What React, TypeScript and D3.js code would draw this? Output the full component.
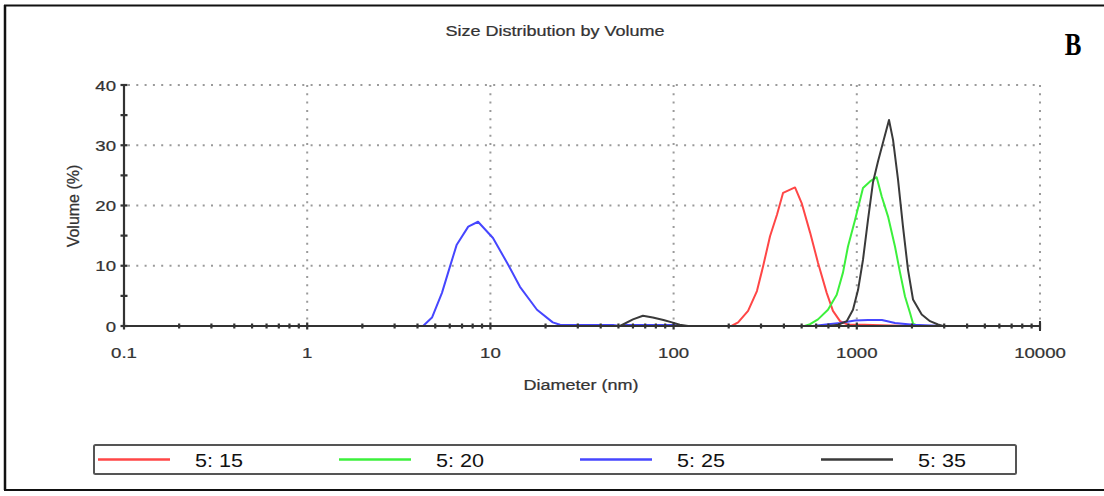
import React from "react";
import * as d3 from "d3";

// ---- data ----
const xMajorTicks = [0.1, 1, 10, 100, 1000, 10000];
const xTickLabels = ["0.1", "1", "10", "100", "1000", "10000"];
const yMajorTicks = [0, 10, 20, 30, 40];
const yTickLabels = ["0", "10", "20", "30", "40"];
const yMinorTicks = [5, 15, 25, 35];

const seriesNames = ["5: 15", "5: 20", "5: 25", "5: 35"];
const seriesColors = ["#ff4646", "#3cf03c", "#4646ff", "#3a3a3a"];

const redD = [200, 207, 225, 255, 285, 308, 336, 367, 396, 460, 500, 556, 614, 685, 741, 810, 900, 1100, 1500, 2027];
const redV = [0, 0, 0.6, 2.5, 5.8, 9.9, 14.9, 18.5, 22.1, 23.0, 20.4, 15.5, 10.5, 5.5, 2.5, 0.8, 0.2, 0.2, 0.1, 0];

const greenD = [520, 556, 614, 696, 777, 841, 895, 978, 1081, 1181, 1284, 1368, 1480, 1616, 1721, 1833, 1951, 2027, 2159];
const greenV = [0, 0.3, 1.1, 2.7, 5.2, 8.9, 13.2, 17.6, 22.9, 24.0, 24.7, 21.5, 18.2, 13.2, 8.9, 4.9, 2.2, 0.4, 0];

const blueD = [3.8, 4.29, 4.8, 5.44, 6.02, 6.55, 7.57, 8.56, 10.33, 12.33, 14.5, 17.96, 21.9, 24.0, 30, 40, 46.7, 51, 55, 70, 100, 110, 560, 577, 700, 810, 978, 1151, 1372, 1616, 2027, 2926];
const blueV = [0, 0, 1.4, 5.5, 9.9, 13.5, 16.5, 17.3, 14.6, 10.5, 6.5, 2.7, 0.6, 0.2, 0.15, 0.15, 0.15, 0, 0.15, 0.15, 0.15, 0, 0, 0, 0.3, 0.5, 0.9, 1.0, 1.0, 0.5, 0.2, 0];

const blackD = [40, 51, 60, 68, 77, 88, 98, 108, 120, 700, 791, 881, 953, 1016, 1081, 1151, 1225, 1305, 1389, 1499, 1577, 1679, 1787, 1902, 2027, 2261, 2510, 2775, 2954];
const blackV = [0, 0, 1.1, 1.7, 1.4, 1.0, 0.6, 0.2, 0, 0, 0.2, 0.8, 2.7, 6.0, 11, 17.6, 23.8, 27.3, 30.4, 34.2, 30.9, 24.3, 16.5, 9.4, 4.4, 1.9, 0.8, 0.25, 0];

const seriesD = [redD, greenD, blueD, blackD];
const seriesV = [redV, greenV, blueV, blackV];

const W = 1104;
const H = 496;
const FONT = "'Liberation Sans', Arial, sans-serif";
const TXT = "#333";
const SX = 1.2;

function SText({ x, y, size, anchor = "middle", children, fill = TXT, sx = SX }: any) {
  return (
    <text
      transform={`translate(${x},${y}) scale(${sx},1)`}
      textAnchor={anchor}
      fontFamily={FONT}
      fontSize={size}
      fill={fill}
      stroke={fill}
      strokeWidth={0.25}
    >
      {children}
    </text>
  );
}

export default function App() {
  const x = d3.scaleLog().domain([0.1, 10000]).range([124, 1040]);
  const y = d3.scaleLinear().domain([0, 40]).range([326, 85]);
  const line = d3
    .line<[number, number]>()
    .x((p) => x(p[0]))
    .y((p) => y(p[1]));

  const minorX = x.ticks().filter((t) => !xMajorTicks.some((m) => Math.abs(m - t) / m < 1e-6));
  const [x0, x1] = x.range();
  const [y0, y1] = y.range();

  const legendX = [98, 339, 580, 821];

  return (
    <svg
      width={W}
      height={H}
      style={{ position: "absolute", left: 0, top: 0, background: "#fff" }}
    >
      <rect x={0} y={0} width={W} height={H} fill="#fff" />
      {/* outer frame */}
      <line x1={4} x2={W} y1={5.5} y2={5.5} stroke="#111" strokeWidth={2} />
      <line x1={5} x2={5} y1={5} y2={490} stroke="#111" strokeWidth={2.5} />
      <line x1={4} x2={W} y1={490} y2={490} stroke="#111" strokeWidth={2} />

      {/* title */}
      <SText x={555} y={36} size={15}>Size Distribution by Volume</SText>
      <text
        transform="translate(1073,55) scale(0.78,1)"
        textAnchor="middle"
        fontFamily="'Liberation Serif', 'Times New Roman', serif"
        fontWeight="bold"
        fontSize={32}
        fill="#000"
      >
        B
      </text>

      {/* grid */}
      {yMajorTicks.filter((t) => t > 0).map((t) => (
        <line key={"gy" + t} x1={x0 + 4} x2={x1} y1={y(t)} y2={y(t)} stroke="#9a9a9a" strokeWidth={2} strokeDasharray="2,6.3" />
      ))}
      {xMajorTicks.filter((t) => t > 0.1).map((t) => (
        <line key={"gx" + t} x1={x(t)} x2={x(t)} y1={y1} y2={y0} stroke="#9a9a9a" strokeWidth={2} strokeDasharray="2,6.3" />
      ))}

      {/* series */}
      {seriesD.map((ds, i) => {
        const pts: [number, number][] = ds.map((dv, j) => [dv, seriesV[i][j]]);
        return (
          <path key={"s" + i} d={line(pts) || ""} fill="none" stroke={seriesColors[i]} strokeWidth={2} strokeLinejoin="round" />
        );
      })}

      {/* axes */}
      <line x1={x0} x2={x0} y1={y1} y2={y0 + 1} stroke="#333" strokeWidth={2.2} />
      <line x1={x0} x2={x1} y1={y0} y2={y0} stroke="#333" strokeWidth={2.2} />
      <line x1={x1} x2={x1} y1={y0 - 5} y2={y0 + 5} stroke="#333" strokeWidth={2} />
      {minorX.map((t, i) => (
        <line key={"mx" + i} x1={x(t)} x2={x(t)} y1={y0 - 2.5} y2={y0 + 2.5} stroke="#333" strokeWidth={2.2} />
      ))}
      {xMajorTicks.map((t) => (
        <line key={"Mx" + t} x1={x(t)} x2={x(t)} y1={y0 - 3.5} y2={y0 + 3.5} stroke="#333" strokeWidth={2.2} />
      ))}
      {yMajorTicks.concat(yMinorTicks).map((t) => (
        <line key={"ty" + t} x1={x0 - 3.5} x2={x0 + 3.5} y1={y(t)} y2={y(t)} stroke="#333" strokeWidth={2.2} />
      ))}

      {/* tick labels */}
      {xMajorTicks.map((t, i) => (
        <SText key={"lx" + t} x={x(t)} y={358} size={15.5}>{xTickLabels[i]}</SText>
      ))}
      {yMajorTicks.map((t, i) => (
        <SText key={"ly" + t} x={116} y={y(t) + 5.5} size={15.5} anchor="end">{yTickLabels[i]}</SText>
      ))}

      {/* axis titles */}
      <SText x={581} y={390} size={15}>Diameter (nm)</SText>
      <text
        transform="translate(79,206) rotate(-90)"
        textAnchor="middle"
        fontFamily={FONT}
        fontSize={16}
        fill={TXT}
        stroke={TXT}
        strokeWidth={0.25}
      >
        Volume (%)
      </text>

      {/* legend */}
      <rect x={94} y={445} width={922} height={29} fill="#fff" stroke="#555" strokeWidth={2} rx={1.5} />
      {seriesNames.map((n, i) => (
        <g key={"lg" + i}>
          <line x1={legendX[i]} x2={legendX[i] + 72} y1={459.5} y2={459.5} stroke={seriesColors[i]} strokeWidth={2.5} />
          <text
            x={legendX[i] + 97}
            y={467}
            fontFamily={FONT}
            fontSize={19}
            fill="#111"
            textLength={48}
            lengthAdjust="spacingAndGlyphs"
          >
            {n}
          </text>
        </g>
      ))}
    </svg>
  );
}
